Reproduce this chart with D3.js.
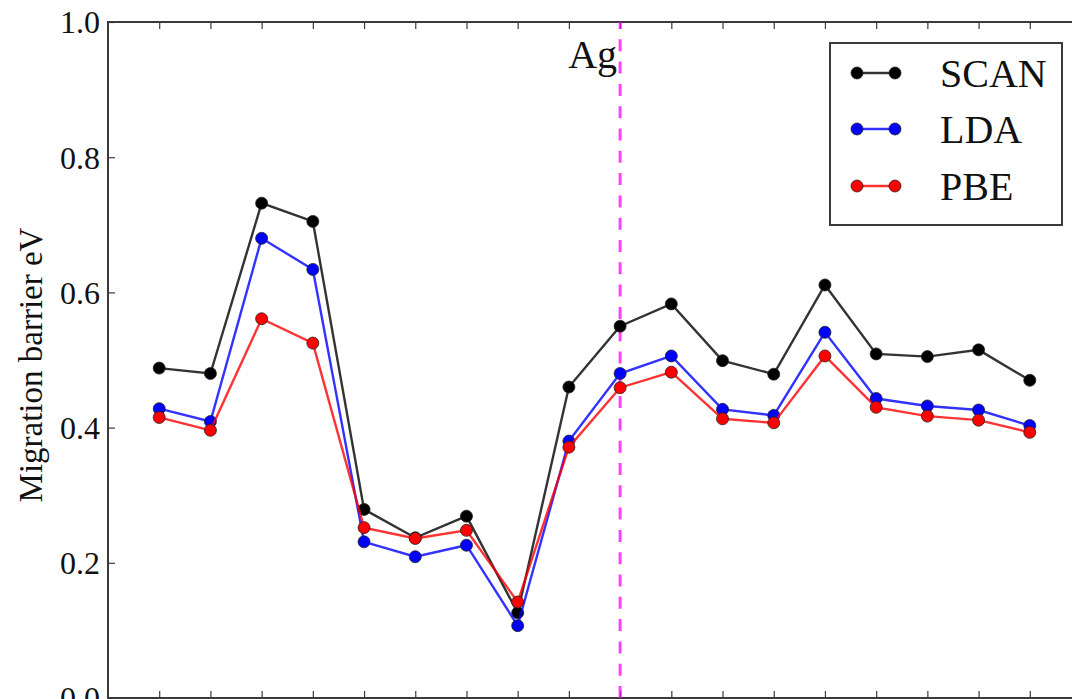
<!DOCTYPE html>
<html>
<head>
<meta charset="utf-8">
<script src="https://cdn.jsdelivr.net/npm/d3@7"></script>
<style>
  html, body { margin: 0; padding: 0; background: #fff; overflow: hidden; }
  svg { display: block; }
  text { font-family: "Liberation Serif", "Times New Roman", "DejaVu Serif", serif; fill: #111; }
</style>
</head>
<body>
<svg id="chart" width="1072" height="699"></svg>
<script>
// Migration barriers (eV) per hop, for three functionals
const hops = d3.range(18);
const scan = [0.488, 0.480, 0.732, 0.705, 0.279, 0.237, 0.269, 0.126, 0.460, 0.550, 0.583, 0.499, 0.479, 0.611, 0.509, 0.505, 0.515, 0.470];
const lda  = [0.428, 0.409, 0.680, 0.634, 0.231, 0.209, 0.226, 0.107, 0.380, 0.480, 0.506, 0.427, 0.418, 0.541, 0.443, 0.432, 0.426, 0.403];
const pbe  = [0.415, 0.396, 0.561, 0.525, 0.252, 0.236, 0.248, 0.142, 0.371, 0.459, 0.482, 0.413, 0.407, 0.506, 0.430, 0.417, 0.411, 0.393];
const seriesNames = ["SCAN", "LDA", "PBE"];
const seriesColors = ["#000000", "#0000ff", "#ff0000"];
const yTicks = [0.0, 0.2, 0.4, 0.6, 0.8, 1.0];
const xTicks = d3.range(0, 19);
const markerLabel = "Ag";
const markerHop = 9;
const yTitle = "Migration barrier eV";

const series = [scan, lda, pbe].map((vals, i) => ({ name: seriesNames[i], color: seriesColors[i], values: vals }));

const svg = d3.select("#chart");
const plot = { left: 108, top: 22, right: 1081, bottom: 698 };

const x = d3.scaleLinear().domain([-1, 18]).range([plot.left, plot.right]);
const y = d3.scaleLinear().domain([0, 1]).range([plot.bottom, plot.top]);

const spine = "#3a3a3a";

// Inward ticks on all four sides
const tickLen = 7;
const bottomAxis = d3.axisBottom(x).tickValues(xTicks).tickSize(-tickLen).tickFormat("");
const topAxis = d3.axisTop(x).tickValues(xTicks).tickSize(-tickLen).tickFormat("");
const leftAxis = d3.axisLeft(y).tickValues(yTicks).tickSize(-tickLen).tickPadding(8).tickFormat(d3.format(".1f"));
const rightAxis = d3.axisRight(y).tickValues(yTicks).tickSize(-tickLen).tickFormat("");

function styleAxis(g) {
  g.select(".domain").remove();
  g.selectAll(".tick line").attr("stroke", spine).attr("stroke-width", 1.2);
}

svg.append("g").attr("transform", `translate(0,${plot.bottom})`).call(bottomAxis).call(styleAxis);
svg.append("g").attr("transform", `translate(0,${plot.top})`).call(topAxis).call(styleAxis);
svg.append("g").attr("transform", `translate(${plot.right},0)`).call(rightAxis).call(styleAxis);
const gl = svg.append("g").attr("transform", `translate(${plot.left},0)`).call(leftAxis).call(styleAxis);
gl.selectAll(".tick text")
  .attr("font-family", "Liberation Serif, serif")
  .attr("font-size", 32)
  .attr("fill", "#111")
  .attr("dy", "0.34em");

// Frame
svg.append("rect")
  .attr("x", plot.left).attr("y", plot.top)
  .attr("width", plot.right - plot.left).attr("height", plot.bottom - plot.top)
  .attr("fill", "none").attr("stroke", spine).attr("stroke-width", 2);

// Vertical dashed marker
svg.append("line")
  .attr("x1", x(markerHop)).attr("x2", x(markerHop))
  .attr("y1", y(0)).attr("y2", y(1))
  .attr("stroke", "#ff00ff").attr("stroke-opacity", 0.75)
  .attr("stroke-width", 3)
  .attr("stroke-dasharray", "12,10.3");

svg.append("text")
  .attr("x", x(markerHop) - 3).attr("y", 68)
  .attr("text-anchor", "end")
  .attr("font-size", 40)
  .text(markerLabel);

// Series lines and markers
const line = d3.line().x((d, i) => x(hops[i])).y(d => y(d));
series.forEach(s => {
  svg.append("path")
    .datum(s.values)
    .attr("d", line)
    .attr("fill", "none")
    .attr("stroke", s.color)
    .attr("stroke-opacity", 0.8)
    .attr("stroke-width", 2.4);
  svg.append("g").selectAll("circle")
    .data(s.values)
    .join("circle")
    .attr("cx", (d, i) => x(hops[i]))
    .attr("cy", d => y(d))
    .attr("r", 6)
    .attr("fill", s.color)
    .attr("stroke", "#222")
    .attr("stroke-width", 0.8);
});

// Y axis title
svg.append("text")
  .attr("transform", `translate(42,365) rotate(-90)`)
  .attr("text-anchor", "middle")
  .attr("font-size", 33)
  .text(yTitle);

// Legend
const legend = svg.append("g");
legend.append("rect")
  .attr("x", 830).attr("y", 43)
  .attr("width", 232).attr("height", 182)
  .attr("fill", "#fff").attr("stroke", spine).attr("stroke-width", 2);
const rowY = [73, 129, 186];
series.forEach((s, i) => {
  const g = legend.append("g").attr("transform", `translate(0,${rowY[i]})`);
  g.append("line").attr("x1", 857).attr("x2", 895).attr("y1", 0).attr("y2", 0)
    .attr("stroke", s.color).attr("stroke-opacity", 0.8).attr("stroke-width", 2.4);
  [857, 895].forEach(cx => g.append("circle").attr("cx", cx).attr("cy", 0).attr("r", 6)
    .attr("fill", s.color).attr("stroke", "#222").attr("stroke-width", 0.8));
  g.append("text").attr("x", 940).attr("y", 13.5).attr("font-size", 40).text(s.name);
});
</script>
</body>
</html>
